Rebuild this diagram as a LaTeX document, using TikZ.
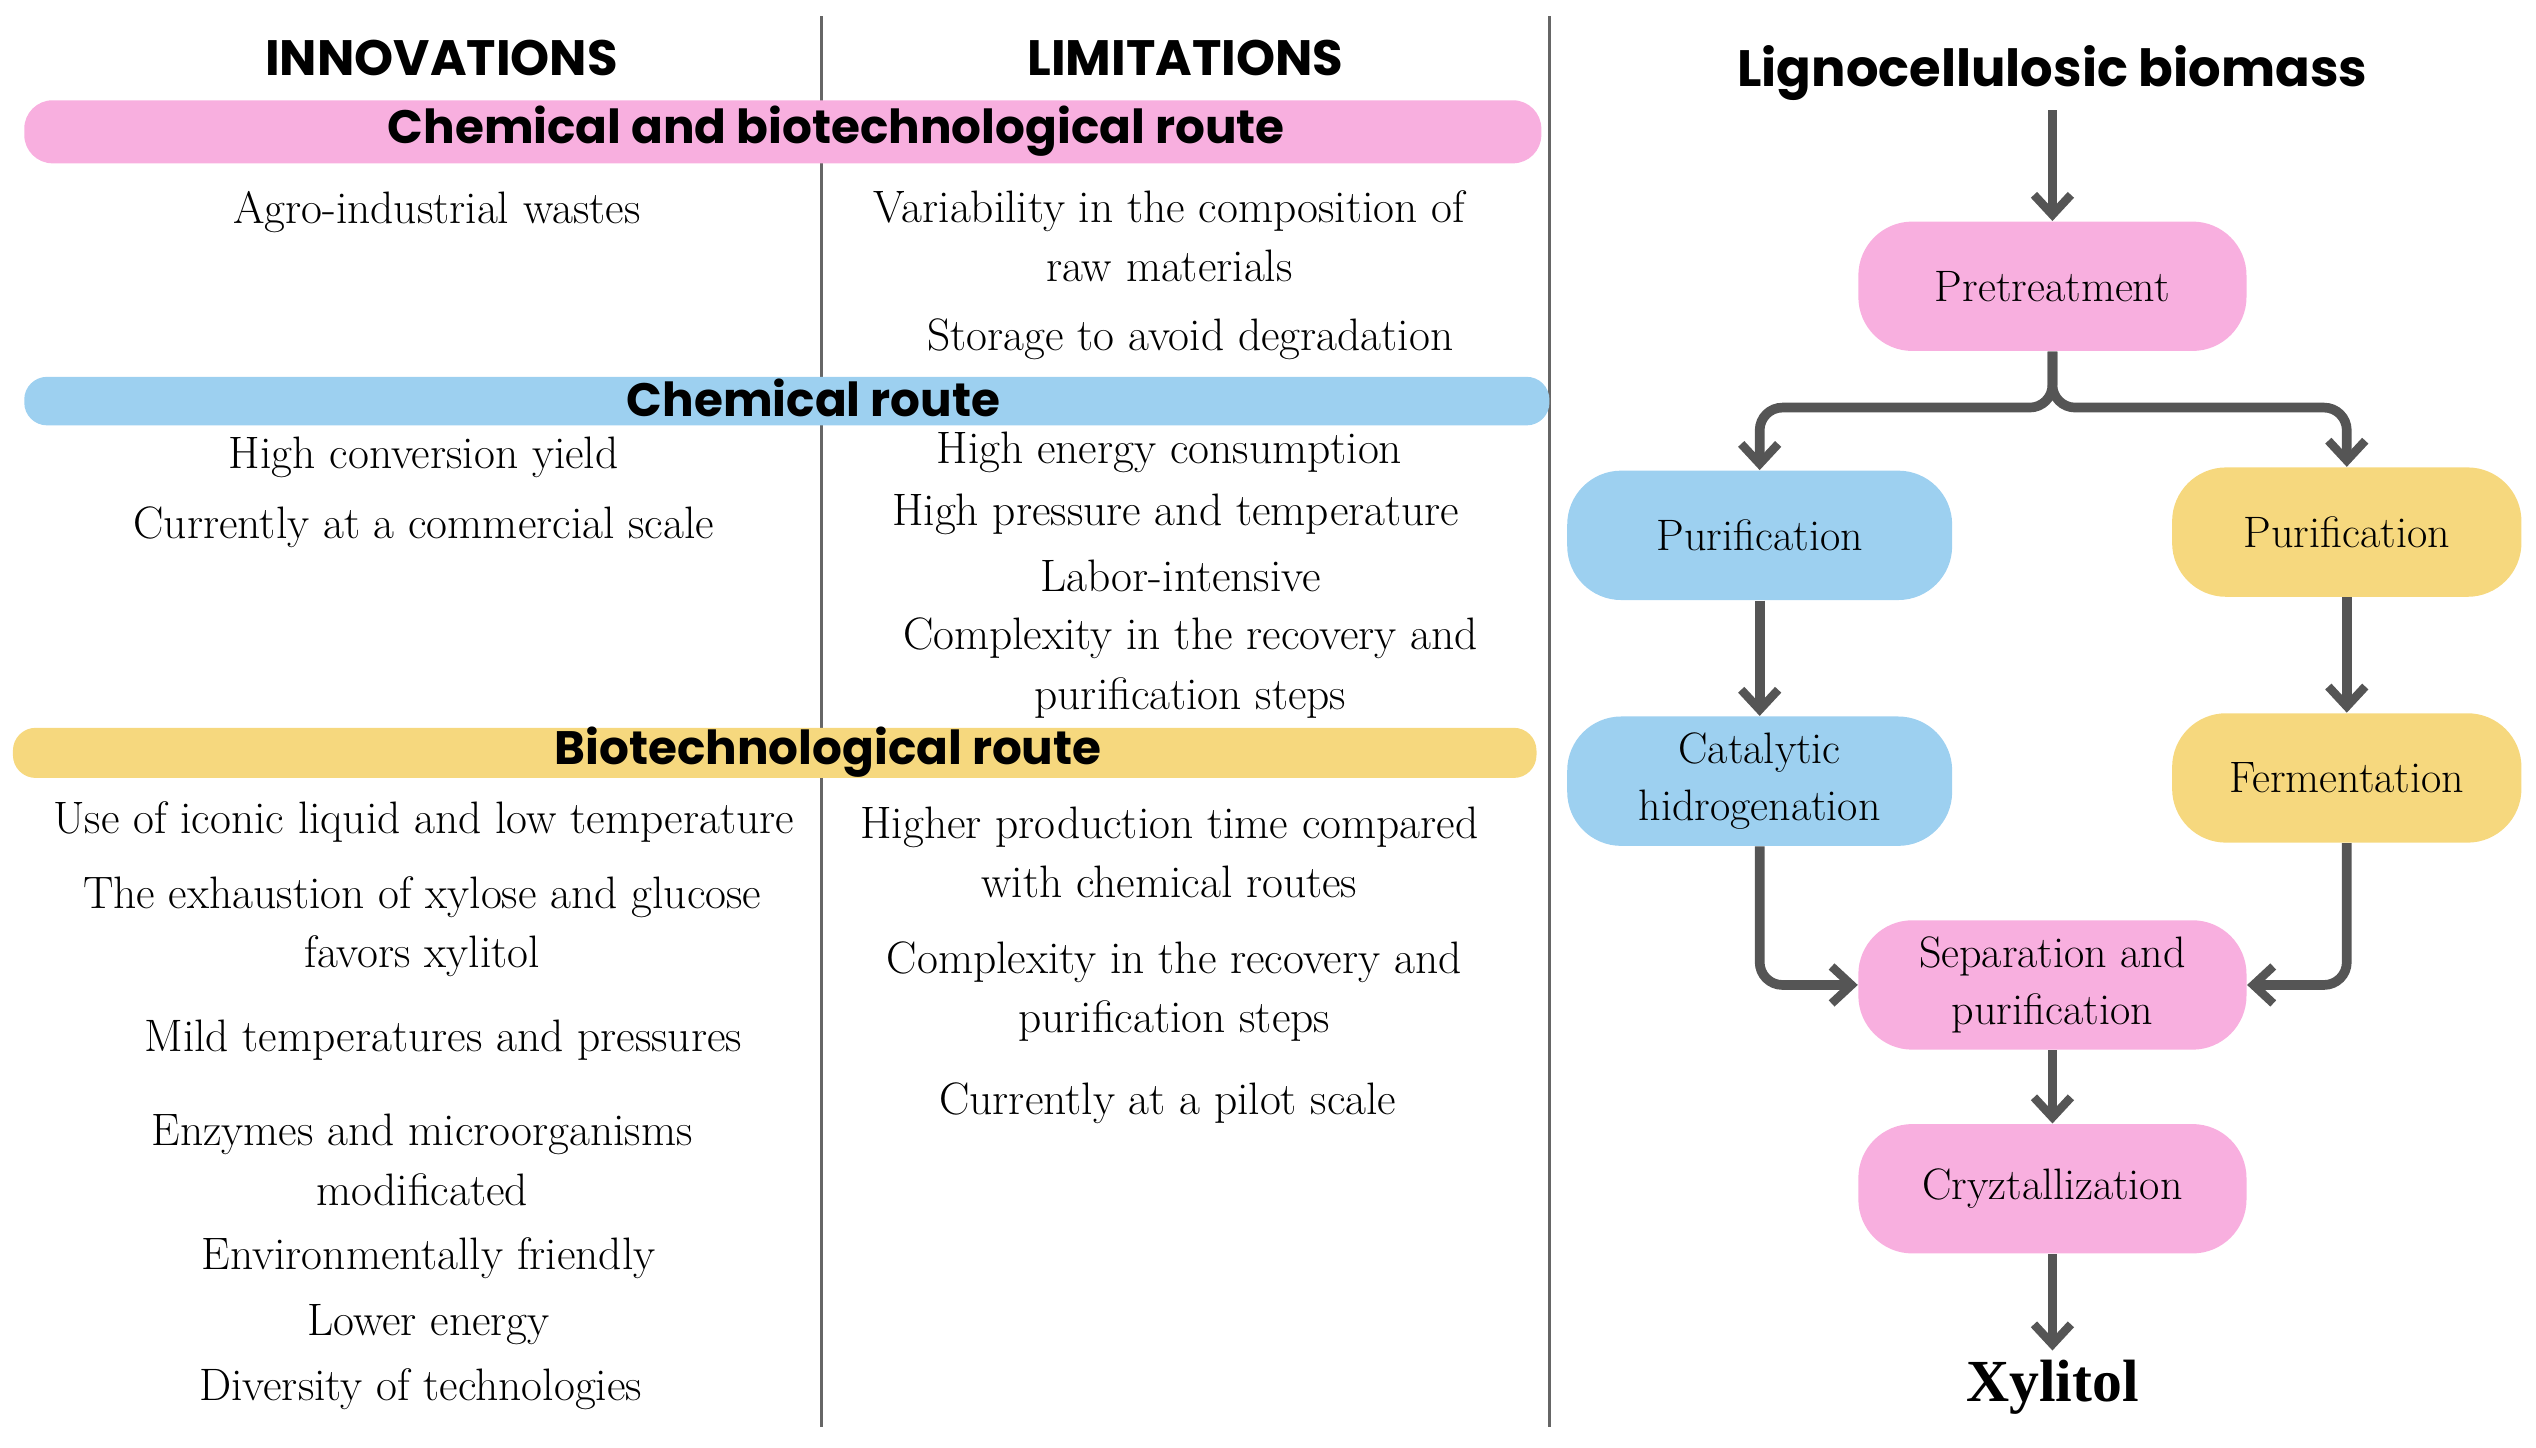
\documentclass[tikz,border=0pt]{standalone}
\usepackage{fontspec}
\newfontfamily\pop{Poppins}
\newfontfamily\lser{Liberation Serif}
\usetikzlibrary{arrows.meta}
\definecolor{pk}{HTML}{F8AFDF}
\definecolor{bl}{HTML}{9DD0F0}
\definecolor{yl}{HTML}{F6D87E}
\definecolor{ar}{HTML}{555555}
\begin{document}
\begin{tikzpicture}[x=0.2mm,y=-0.2mm,
 hd/.style={font=\pop\bfseries\fontsize{17.5}{20}\selectfont},
 bar/.style={font=\pop\bfseries\fontsize{16.5}{19}\selectfont},
 tx/.style={font=\fontsize{16}{21}\selectfont,align=center},
 fl/.style={rounded corners=19pt,minimum height=16mm,font=\fontsize{15.5}{20}\selectfont,align=center},
 arr/.style={ar,line width=3.4pt,rounded corners=8pt,-{Straight Barb[length=7pt,width=13pt,line width=3pt]}}]
\useasboundingbox (0,0) rectangle (1568,895);
\draw[gray!80!black,line width=1.2pt] (508,10)--(508,882) (958,10)--(958,882);
\node[hd] (h1) at (273,36) {INNOVATIONS};
\node[hd] (h2) at (733,36) {LIMITATIONS};
\fill[pk,rounded corners=10pt] (15,62) rectangle (953,101);
\node[bar] (b1) at (517,81) {Chemical and biotechnological route};
\fill[bl,rounded corners=8pt] (15,233) rectangle (958,263);
\node[bar] (b2) at (503,246) {Chemical route};
\fill[yl,rounded corners=8pt] (8,450) rectangle (950,481);
\node[bar] (b3) at (512,465) {Biotechnological route};
\node[tx] at (270,131) {Agro-industrial wastes};
\node[tx] at (723,146) {Variability in the composition of\\raw materials};
\node[tx] at (736,210) {Storage to avoid degradation};
\node[tx] at (262,283) {High conversion yield};
\node[tx] at (262,326) {Currently at a commercial scale};
\node[tx] at (723,280) {High energy consumption};
\node[tx] at (727,318) {High pressure and temperature};
\node[tx] at (730,356) {Labor-intensive};
\node[tx] at (736,413) {Complexity in the recovery and\\purification steps};
\node[tx] at (262,508) {Use of iconic liquid and low temperature};
\node[tx] at (261,573) {The exhaustion of xylose and glucose\\favors xylitol};
\node[tx] at (274,643) {Mild temperatures and pressures};
\node[tx] at (261,717) {Enzymes and microorganisms\\modificated};
\node[tx] at (265,778) {Environmentally friendly};
\node[tx] at (265,819) {Lower energy};
\node[tx] at (260,859) {Diversity of technologies};
\node[tx] at (723,527) {Higher production time compared\\with chemical routes};
\node[tx] at (726,613) {Complexity in the recovery and\\purification steps};
\node[tx] at (722,682) {Currently at a pilot scale};
\node[font=\pop\bfseries\fontsize{18}{21}\selectfont] (lb) at (1269,45) {Lignocellulosic biomass};
\node[fl,fill=pk,minimum width=48mm] (pre) at (1269,177) {Pretreatment};
\node[fl,fill=bl,minimum width=47.6mm] (pb) at (1088,331) {Purification};
\node[fl,fill=yl,minimum width=43.2mm] (py) at (1451,329) {Purification};
\node[fl,fill=bl,minimum width=47.6mm] (cat) at (1088,483) {Catalytic\\hidrogenation};
\node[fl,fill=yl,minimum width=43.2mm] (fer) at (1451,481) {Fermentation};
\node[fl,fill=pk,minimum width=48mm] (sep) at (1269,609) {Separation and\\purification};
\node[fl,fill=pk,minimum width=48mm] (cry) at (1269,735) {Cryztallization};
\node[font=\lser\bfseries\fontsize{21}{24}\selectfont] (xy) at (1269,858) {Xylitol};
\draw[arr] (lb.south)--(pre.north);
\draw[arr] (pre.south)--(1269,252)--(1088,252)--(pb.north);
\draw[arr] (pre.south)--(1269,252)--(1451,252)--(py.north);
\draw[arr] (pb.south)--(cat.north);
\draw[arr] (py.south)--(fer.north);
\draw[arr] (cat.south)--(1088,609)--(sep.west);
\draw[arr] (fer.south)--(1451,609)--(sep.east);
\draw[arr] (sep.south)--(cry.north);
\draw[arr] (cry.south)--(xy.north);
\end{tikzpicture}
\end{document}
